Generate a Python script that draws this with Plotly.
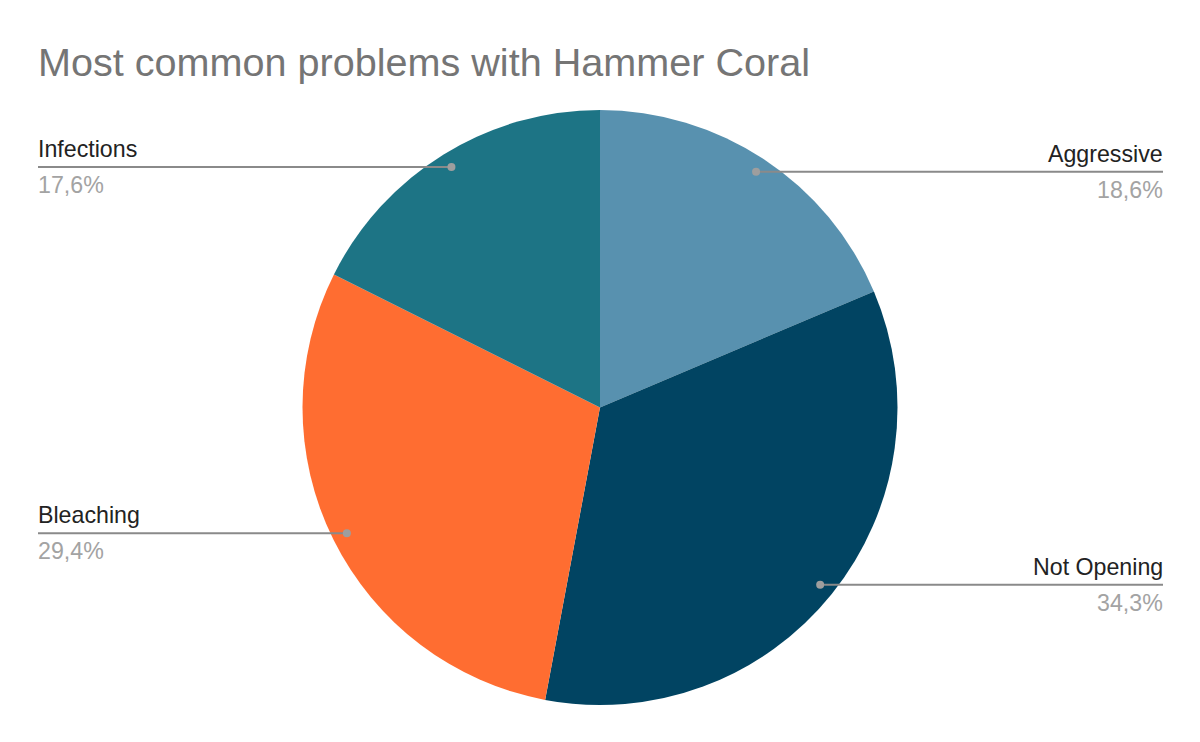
import math
import plotly.graph_objects as go

title = "Most common problems with Hammer Coral"
categories = ["Aggressive", "Not Opening", "Bleaching", "Infections"]
values = [18.6, 34.3, 29.4, 17.6]
colors = ["#5891AF", "#014462", "#FF6D31", "#1D7485"]

W, H = 1200, 742
cx, cy, R = 600, 407.5, 297.5

fig = go.Figure(go.Pie(
    labels=categories, values=values, sort=False, direction="clockwise",
    rotation=0, textinfo="none", hoverinfo="label+percent",
    marker=dict(colors=colors, line=dict(width=0)),
    domain=dict(x=[(cx - R) / W, (cx + R) / W], y=[(H - cy - R) / H, (H - cy + R) / H]),
    showlegend=False,
))

total = sum(values)
cum = 0.0
shapes, annotations = [], []
xp = lambda x: x / W
yp = lambda y: 1 - y / H
for cat, v in zip(categories, values):
    mid = (cum + v / 2) / total * 2 * math.pi
    cum += v
    px = cx + 0.95 * R * math.sin(mid)
    py = cy - 0.95 * R * math.cos(mid)
    right = px > cx
    ex = 1163 if right else 38
    tx = ex + 2 if right else ex - 2
    shapes.append(dict(type="line", xref="paper", yref="paper",
                       x0=xp(px), y0=yp(py), x1=xp(ex), y1=yp(py),
                       line=dict(color="#8a8a8a", width=2)))
    shapes.append(dict(type="circle", xref="paper", yref="paper",
                       x0=xp(px - 4), y0=yp(py - 4), x1=xp(px + 4), y1=yp(py + 4),
                       fillcolor="#9e9e9e", line=dict(width=0)))
    anchor = "right" if right else "left"
    annotations.append(dict(xref="paper", yref="paper", x=xp(tx), y=yp(py - 3),
                            text=cat, showarrow=False, xanchor=anchor, yanchor="bottom",
                            font=dict(family="Liberation Sans, Arial", size=23.2, color="#222222")))
    annotations.append(dict(xref="paper", yref="paper", x=xp(tx), y=yp(py + 3),
                            text=f"{v:.1f}".replace(".", ",") + "%", showarrow=False,
                            xanchor=anchor, yanchor="top",
                            font=dict(family="Liberation Sans, Arial", size=23.2, color="#a3a3a3")))

fig.update_layout(
    width=W, height=H,
    margin=dict(l=0, r=0, t=0, b=0),
    paper_bgcolor="white", plot_bgcolor="white",
    title=dict(text=title, x=38 / W, xanchor="left", y=1 - 62 / H, yanchor="middle",
               font=dict(family="Liberation Sans, Arial", size=39.6, color="#757575")),
    shapes=shapes, annotations=annotations,
)

fig.write_html("out.html", config={"displayModeBar": False},
               post_script="document.body.style.margin='0';document.body.style.overflow='hidden';")
